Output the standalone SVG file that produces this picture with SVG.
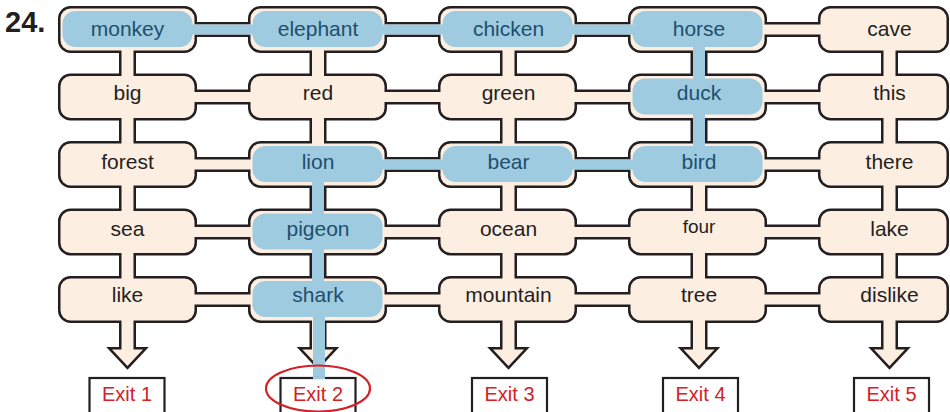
<svg xmlns="http://www.w3.org/2000/svg" width="950" height="412" viewBox="0 0 950 412">
<style>
.b{fill:#9ecbdf}
.t{font-family:"Liberation Sans",Arial,sans-serif;font-size:21px;fill:#231f20;text-anchor:middle}
.tb{fill:#1f4f6e}
.ex rect{fill:#fff;stroke:#231f20;stroke-width:2.2}
.ex text{font-family:"Liberation Sans",Arial,sans-serif;font-size:20px;fill:#d42027;text-anchor:middle}
</style>
<defs>
<g id="grid">
<rect x="60.5" y="8.5" width="134" height="42" rx="10"/>
<rect x="250.5" y="8.5" width="134" height="42" rx="10"/>
<rect x="440.5" y="8.5" width="134" height="42" rx="10"/>
<rect x="630.5" y="8.5" width="134" height="42" rx="10"/>
<rect x="820.5" y="8.5" width="126" height="42" rx="10"/>
<rect x="60.5" y="76" width="134" height="42" rx="10"/>
<rect x="250.5" y="76" width="134" height="42" rx="10"/>
<rect x="440.5" y="76" width="134" height="42" rx="10"/>
<rect x="630.5" y="76" width="134" height="42" rx="10"/>
<rect x="820.5" y="76" width="126" height="42" rx="10"/>
<rect x="60.5" y="143.5" width="134" height="42" rx="10"/>
<rect x="250.5" y="143.5" width="134" height="42" rx="10"/>
<rect x="440.5" y="143.5" width="134" height="42" rx="10"/>
<rect x="630.5" y="143.5" width="134" height="42" rx="10"/>
<rect x="820.5" y="143.5" width="126" height="42" rx="10"/>
<rect x="60.5" y="211" width="134" height="42" rx="10"/>
<rect x="250.5" y="211" width="134" height="42" rx="10"/>
<rect x="440.5" y="211" width="134" height="42" rx="10"/>
<rect x="630.5" y="211" width="134" height="42" rx="10"/>
<rect x="820.5" y="211" width="126" height="42" rx="10"/>
<rect x="60.5" y="278.5" width="134" height="42" rx="10"/>
<rect x="250.5" y="278.5" width="134" height="42" rx="10"/>
<rect x="440.5" y="278.5" width="134" height="42" rx="10"/>
<rect x="630.5" y="278.5" width="134" height="42" rx="10"/>
<rect x="820.5" y="278.5" width="126" height="42" rx="10"/>
<rect x="190" y="24.5" width="640" height="10"/>
<rect x="190" y="92" width="640" height="10"/>
<rect x="190" y="159.5" width="640" height="10"/>
<rect x="190" y="227" width="640" height="10"/>
<rect x="190" y="294.5" width="640" height="10"/>
<rect x="121.5" y="45" width="12" height="240"/>
<rect x="312" y="45" width="12" height="240"/>
<rect x="502.5" y="45" width="12" height="240"/>
<rect x="693" y="45" width="12" height="240"/>
<rect x="883.5" y="45" width="12" height="240"/>
<polygon points="121.5,315 121.5,349.5 112,349.5 127.5,366 143,349.5 133.5,349.5 133.5,315"/>
<polygon points="312,315 312,349.5 302.5,349.5 318,366 333.5,349.5 324,349.5 324,315"/>
<polygon points="502.5,315 502.5,349.5 493,349.5 508.5,366 524,349.5 514.5,349.5 514.5,315"/>
<polygon points="693,315 693,349.5 683.5,349.5 699,366 714.5,349.5 705,349.5 705,315"/>
<polygon points="883.5,315 883.5,349.5 874,349.5 889.5,366 905,349.5 895.5,349.5 895.5,315"/>
</g>
</defs>
<text x="5" y="32" style="font-family:'Liberation Sans',Arial,sans-serif;font-size:29px;font-weight:bold;fill:#231f20">24.</text>
<g id="connectors">
<use href="#grid" fill="#231f20" stroke="#231f20" stroke-width="5" stroke-linejoin="miter"/>
<use href="#grid" fill="#fdeee2" stroke="none"/>
<rect class="b" x="190" y="24.5" width="450" height="10"/>
<rect class="b" x="380" y="159.5" width="260" height="10"/>
<rect class="b" x="693" y="40" width="12" height="120"/>
<rect class="b" x="312" y="175" width="12" height="130"/>
<rect class="b" x="313" y="310" width="12" height="68.5"/>
</g>
<g id="monkey"><rect class="b" x="62.5" y="11" width="130" height="36" rx="13"/><text class="t tb" x="127.5" y="35.5">monkey</text></g>
<g id="elephant"><rect class="b" x="252.5" y="11" width="130" height="36" rx="13"/><text class="t tb" x="318" y="35.5">elephant</text></g>
<g id="chicken"><rect class="b" x="442.5" y="11" width="130" height="36" rx="13"/><text class="t tb" x="508.5" y="35.5">chicken</text></g>
<g id="horse"><rect class="b" x="632.5" y="11" width="130" height="36" rx="13"/><text class="t tb" x="699" y="35.5">horse</text></g>
<g id="cave"><text class="t" x="889.5" y="35.5">cave</text></g>
<g id="big"><text class="t" x="127.5" y="100">big</text></g>
<g id="red"><text class="t" x="318" y="100">red</text></g>
<g id="green"><text class="t" x="508.5" y="100">green</text></g>
<g id="duck"><rect class="b" x="632.5" y="78.5" width="130" height="36" rx="13"/><text class="t tb" x="699" y="100">duck</text></g>
<g id="this"><text class="t" x="889.5" y="100">this</text></g>
<g id="forest"><text class="t" x="127.5" y="169">forest</text></g>
<g id="lion"><rect class="b" x="252.5" y="146" width="130" height="36" rx="13"/><text class="t tb" x="318" y="169">lion</text></g>
<g id="bear"><rect class="b" x="442.5" y="146" width="130" height="36" rx="13"/><text class="t tb" x="508.5" y="169">bear</text></g>
<g id="bird"><rect class="b" x="632.5" y="146" width="130" height="36" rx="13"/><text class="t tb" x="699" y="169">bird</text></g>
<g id="there"><text class="t" x="889.5" y="169">there</text></g>
<g id="sea"><text class="t" x="127.5" y="236">sea</text></g>
<g id="pigeon"><rect class="b" x="252.5" y="213.5" width="130" height="36" rx="13"/><text class="t tb" x="318" y="236">pigeon</text></g>
<g id="ocean"><text class="t" x="508.5" y="236">ocean</text></g>
<g id="four"><text class="t" x="699" y="233" style="font-size:19px">four</text></g>
<g id="lake"><text class="t" x="889.5" y="236">lake</text></g>
<g id="like"><text class="t" x="127.5" y="301.5">like</text></g>
<g id="shark"><rect class="b" x="252.5" y="281" width="130" height="36" rx="13"/><text class="t tb" x="318" y="301.5">shark</text></g>
<g id="mountain"><text class="t" x="508.5" y="301.5">mountain</text></g>
<g id="tree"><text class="t" x="699" y="301.5">tree</text></g>
<g id="dislike"><text class="t" x="889.5" y="301.5">dislike</text></g>
<g id="exit1" class="ex"><rect x="89.5" y="378" width="75" height="36"/><text x="127" y="401">Exit 1</text></g>
<g id="exit2" class="ex"><rect x="280.5" y="378" width="75" height="36"/><text x="318" y="401">Exit 2</text></g>
<g id="exit3" class="ex"><rect x="472" y="378" width="75" height="36"/><text x="509.5" y="401">Exit 3</text></g>
<g id="exit4" class="ex"><rect x="663" y="378" width="75" height="36"/><text x="700.5" y="401">Exit 4</text></g>
<g id="exit5" class="ex"><rect x="854" y="378" width="75" height="36"/><text x="891.5" y="401">Exit 5</text></g>
<rect class="b" x="313" y="376.5" width="12" height="2.5"/>
<ellipse cx="318" cy="388.5" rx="52" ry="23" fill="none" stroke="#d42027" stroke-width="2.2"/>
</svg>
